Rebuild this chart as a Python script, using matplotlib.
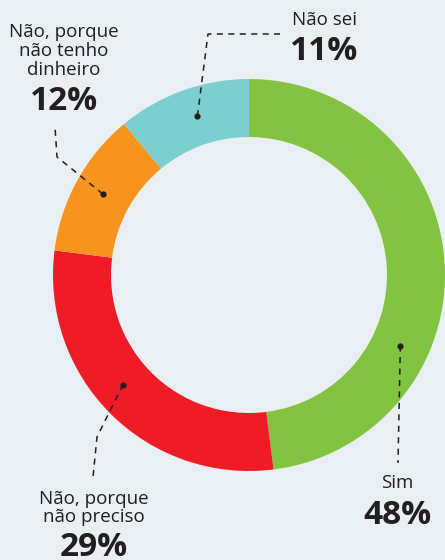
import matplotlib
matplotlib.use("Agg")
import matplotlib.pyplot as plt
import numpy as np

plt.rcParams['font.family'] = ['Open Sans', 'DejaVu Sans']

# data
labels = ['Sim', 'Não, porque\nnão preciso', 'Não, porque\nnão tenho\ndinheiro', 'Não sei']
values = [48, 29, 12, 11]
colors = ['#82c341', '#ef1c27', '#f7941d', '#7ccfcf']

W, H = 445, 560
BG = '#e9eff2'
INK = '#231f20'

fig = plt.figure(figsize=(W / 100, H / 100), dpi=100, facecolor=BG)
ax = fig.add_axes([0, 0, 1, 1])
ax.set_xlim(0, W)
ax.set_ylim(0, H)
ax.set_aspect('equal')
ax.axis('off')

cx, cy = 249, H - 275
R, ring = 196, 58
ax.pie(values, colors=colors, startangle=90, counterclock=False,
       center=(cx, cy), radius=R, wedgeprops=dict(width=ring, linewidth=0))
ax.set_xlim(0, W)
ax.set_ylim(0, H)


def Y(y):
    return H - y


# leader lines: angle of dot on ring (deg), then bend points in image px
leaders = [
    (-25, [(398, 463)]),
    (-139, [(97, 437), (93, 477)]),
    (151, [(57, 157), (55, 127)]),
    (108, [(208, 34), (280, 34)]),
]
rmid = R - ring / 2
for ang, pts in leaders:
    a = np.radians(ang)
    dx, dy = cx + rmid * np.cos(a), cy + rmid * np.sin(a)
    xs = [dx] + [p[0] for p in pts]
    ys = [dy] + [Y(p[1]) for p in pts]
    ax.plot(xs, ys, color=INK, lw=1.1, dashes=(4, 3.5), solid_capstyle='butt')
    ax.plot(dx, dy, 'o', color=INK, ms=4.5, mec='none')

# text labels
lab_kw = dict(fontsize=13.5, color=INK, linespacing=1.05)
pct_kw = dict(fontsize=24, color=INK, fontweight='bold')

ax.text(397, Y(483), labels[0], ha='center', va='center', **lab_kw)
ax.text(397, Y(515), f'{values[0]}%', ha='center', va='center', **pct_kw)

ax.text(94, Y(508), labels[1], ha='center', va='center', **lab_kw)
ax.text(94, Y(548), f'{values[1]}%', ha='center', va='center', **pct_kw)

ax.text(64, Y(51), labels[2], ha='center', va='center', **lab_kw)
ax.text(64, Y(101), f'{values[2]}%', ha='center', va='center', **pct_kw)

ax.text(292, Y(20), labels[3], ha='left', va='center', **lab_kw)
ax.text(290, Y(52), f'{values[3]}%', ha='left', va='center', **pct_kw)

fig.savefig('out.png', dpi=100, facecolor=BG)
